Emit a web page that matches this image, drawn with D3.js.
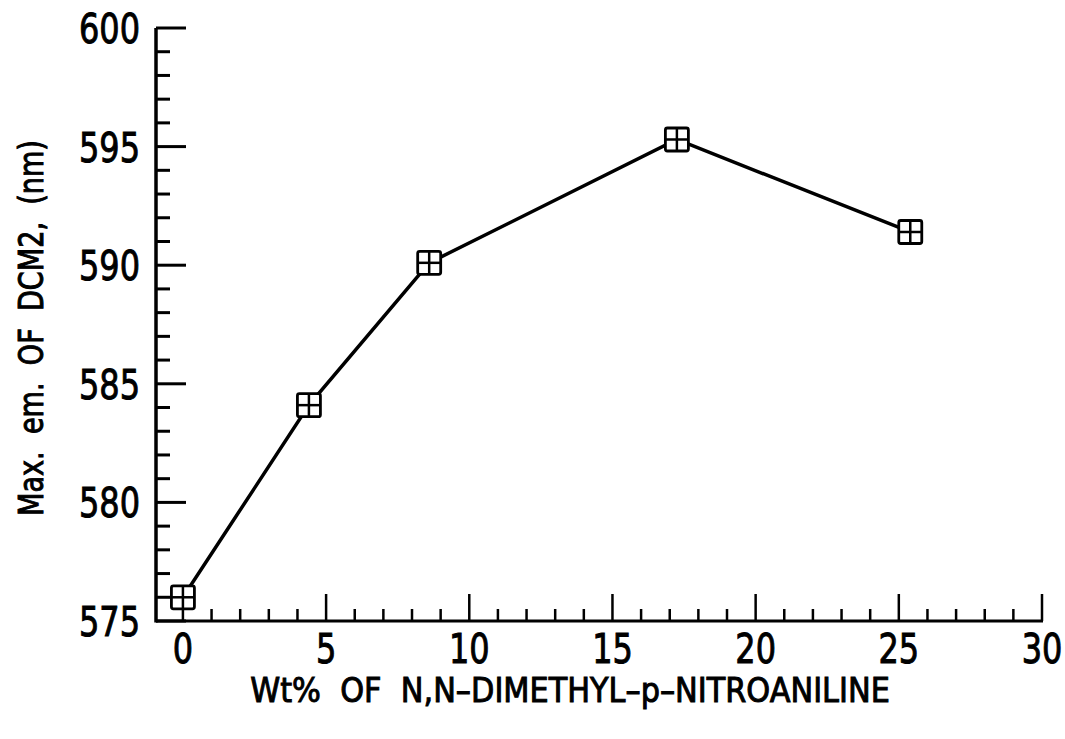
<!DOCTYPE html>
<html><head><meta charset="utf-8">
<script src="https://cdn.jsdelivr.net/npm/d3@7"></script>
<style>
body{margin:0;background:#fff;}
text{font-family:"DejaVu Sans",sans-serif;fill:#000;stroke:#000;stroke-width:1;white-space:pre;}
</style></head><body>
<svg id="c" width="1065" height="739"></svg>
<script>
const xValues = [0, 4.4, 8.6, 17.25, 25.4];
const yValues = [576.0, 584.1, 590.1, 595.3, 591.4];
const xTicks = [0, 5, 10, 15, 20, 25, 30];
const yTicks = [575, 580, 585, 590, 595, 600];
const xLabel = "Wt%  OF  N,N\u2013DIMETHYL\u2013p\u2013NITROANILINE";
const yLabel = "Max.  em.  OF  DCM2,  (nm)";

const svg = d3.select("#c");
const x = d3.scaleLinear().domain([-0.94, 30]).range([156, 1042]);
const y = d3.scaleLinear().domain([575, 600]).range([621, 28]);

const g = svg.append("g");
g.append("line").attr("x1",156).attr("x2",156).attr("y1",y(600)).attr("y2",y(575)+1.5).attr("stroke","#000").attr("stroke-width",3.5);
g.append("line").attr("x1",156).attr("x2",x(30)+1).attr("y1",y(575)).attr("y2",y(575)).attr("stroke","#000").attr("stroke-width",3);

const yMinor = d3.range(575, 601, 1);
g.selectAll(".yt").data(yMinor).join("line")
  .attr("x1",156).attr("x2",d=> d%5===0 ? 186 : 170)
  .attr("y1",d=>y(d)).attr("y2",d=>y(d)).attr("stroke","#000").attr("stroke-width",3);
const xMinor = d3.range(0, 31, 1);
g.selectAll(".xt").data(xMinor).join("line")
  .attr("x1",d=>x(d)).attr("x2",d=>x(d))
  .attr("y1",y(575)).attr("y2",d=> d%5===0 ? y(575)-27 : y(575)-12)
  .attr("stroke","#000").attr("stroke-width",2.5);

const sx = 0.78;
g.selectAll(".yl").data(yTicks).join("text")
  .attr("transform",d=>`translate(140,${y(d)+15}) scale(${sx},1)`)
  .attr("text-anchor","end").attr("font-size",41).text(d=>d);
g.selectAll(".xl").data(xTicks).join("text")
  .attr("transform",d=>`translate(${x(d)},663) scale(${sx},1)`)
  .attr("text-anchor","middle").attr("font-size",41).text(d=>d);

function fit(sel, w){
  const n = sel.node().getComputedTextLength();
  return w / n;
}
const xt = g.append("text").attr("text-anchor","middle").attr("font-size",33).text(xLabel);
const fx = fit(xt, 640);
xt.attr("transform",`translate(570,702) scale(${fx},1)`);
const yt = g.append("text").attr("text-anchor","middle").attr("font-size",33).text(yLabel);
const fy = fit(yt, 376);
yt.attr("transform",`translate(43,328) rotate(-90) scale(${fy},1)`);

const pts = xValues.map((v,i)=>[v, yValues[i]]);
g.append("path").datum(pts)
  .attr("d", d3.line().x(d=>x(d[0])).y(d=>y(d[1])))
  .attr("fill","none").attr("stroke","#000").attr("stroke-width",3.5);

const s = 11.5;
const mk = g.selectAll(".m").data(pts).join("g").attr("transform",d=>`translate(${x(d[0])},${y(d[1])})`);
mk.append("rect").attr("x",-s).attr("y",-s).attr("width",2*s).attr("height",2*s).attr("rx",2)
  .attr("fill","#fff").attr("stroke","#000").attr("stroke-width",2.8);
mk.append("line").attr("x1",-s).attr("x2",s).attr("y1",0).attr("y2",0).attr("stroke","#000").attr("stroke-width",2.5);
mk.append("line").attr("y1",-s).attr("y2",s).attr("x1",0).attr("x2",0).attr("stroke","#000").attr("stroke-width",2.5);
</script></body></html>
